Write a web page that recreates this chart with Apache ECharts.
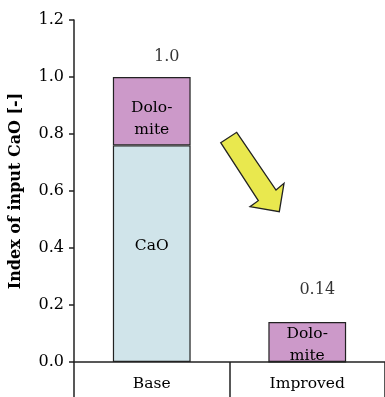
<!DOCTYPE html>
<html><head><meta charset="utf-8">
<script src="https://cdn.jsdelivr.net/npm/echarts@6/dist/echarts.min.js"></script>
<style>html,body{margin:0;padding:0;background:#fff}#c{width:385px;height:397px}</style>
</head><body><div id="c"></div>
<script>
const categories = ['Base', 'Improved'];
const caoValues = [0.76, 0];
const dolomiteValues = [0.24, 0.14];
const totals = [1.0, 0.14];
const totalLabels = ['1.0', '0.14'];
const yTicks = [0, 0.2, 0.4, 0.6, 0.8, 1.0, 1.2];

const FONT = 'DejaVu Serif';
const chart = echarts.init(document.getElementById('c'), null, {renderer: 'canvas'});
chart.setOption({
  animation: false,
  textStyle: {fontFamily: FONT},
  grid: {left: 73, right: 0, top: 20, bottom: 35, containLabel: false},
  xAxis: {
    type: 'category', data: categories,
    axisLine: {lineStyle: {color: '#222', width: 1.5}},
    axisTick: {show: true, length: 36, alignWithLabel: false, lineStyle: {color: '#222', width: 1.5}},
    axisLabel: {color: '#000', fontSize: 15.5, fontFamily: FONT, margin: 14}
  },
  yAxis: {
    type: 'value', min: 0, max: 1.2, interval: 0.2,
    name: 'Index of input CaO [-]', nameLocation: 'middle', nameGap: 50,
    nameTextStyle: {color: '#000', fontSize: 16, fontWeight: 'bold', fontFamily: FONT},
    axisLine: {show: true, lineStyle: {color: '#222', width: 1.5}},
    axisTick: {show: true, length: 5, lineStyle: {color: '#222', width: 1.5}},
    splitLine: {show: false},
    axisLabel: {color: '#000', fontSize: 16, fontFamily: FONT, margin: 10,
      formatter: v => v.toFixed(1)}
  },
  series: [
    {
      name: 'CaO', type: 'bar', stack: 's', barWidth: '50%',
      data: caoValues,
      itemStyle: {color: '#D0E4EA', borderColor: '#222', borderWidth: 1.2},
      label: {show: true, position: 'inside', color: '#000', fontSize: 15.5, fontFamily: FONT,
        offset: [0, -8], formatter: p => p.value > 0 ? 'CaO' : ''}
    },
    {
      name: 'Dolomite', type: 'bar', stack: 's', barWidth: '50%',
      data: dolomiteValues.map((v, i) => ({value: v, label: {offset: [0, i === 0 ? 8 : 3]}})),
      itemStyle: {color: '#CC99C9', borderColor: '#222', borderWidth: 1.2},
      label: {show: true, position: 'inside', color: '#000', fontSize: 15.5, fontFamily: FONT,
        lineHeight: 22, formatter: 'Dolo-\nmite'}
    },
    {
      name: 'Total', type: 'scatter', symbolSize: 0,
      data: totals.map((v, i) => ({value: v,
        label: {distance: i === 0 ? 12 : 24, offset: [i === 0 ? 15 : 10, 0]}})),
      label: {show: true, position: 'top', color: '#000', fontSize: 16, fontFamily: FONT,
        formatter: p => totalLabels[p.dataIndex]},
      z: 5
    }
  ],
  graphic: [{
    type: 'polygon', z: 100,
    shape: {points: [[220.7,142.7],[236.7,132.3],[276,190],[284,183.3],[279.3,211.7],[250,206.7],[258.3,200.7]]},
    style: {fill: '#E9E84E', stroke: '#222', lineWidth: 1.3}
  }]
});
</script></body></html>
